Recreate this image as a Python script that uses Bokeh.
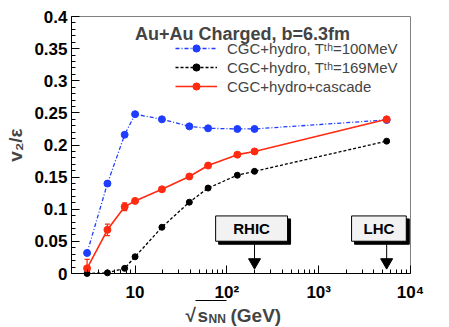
import math
from bokeh.plotting import figure
from bokeh.models import (Range1d, FixedTicker, CustomJSTickFormatter, Label, Legend,
                          LegendItem, ColumnDataSource, Whisker, TeeHead)
from bokeh.core.properties import value
from bokeh.embed import file_html
from bokeh.resources import INLINE

# ---- data ----
energies = [3, 5, 7.7, 10, 19.6, 39, 62.4, 130, 200, 5500]
v2_T100 = [0.032, 0.140, 0.216, 0.248, 0.240, 0.229, 0.226, 0.225, 0.225, 0.239]
v2_T169 = [0.000, 0.001, 0.008, 0.026, 0.072, 0.111, 0.133, 0.153, 0.159, 0.206]
v2_casc = [0.008, 0.068, 0.104, 0.113, 0.131, 0.151, 0.168, 0.185, 0.190, 0.240]
casc_err = [0.014, 0.009, 0.006, 0, 0, 0, 0, 0, 0, 0]

series_labels = ["CGC+hydro, T\u1d57\u02b0=100MeV",
                 "CGC+hydro, T\u1d57\u02b0=169MeV",
                 "CGC+hydro+cascade"]
title_text = "Au+Au Charged, b=6.3fm"

# collider markers
colliders = ["RHIC", "LHC"]
collider_energy = [200, 5500]
box_left = [75.4, 2281]
box_right = [458, 8995]
box_top = 0.0896
box_bottom = 0.0502
arrow_tip = 0.0176

y_ticks = [0, 0.05, 0.1, 0.15, 0.2, 0.25, 0.3, 0.35, 0.4]
x_ticks = [10, 100, 1000, 10000]

FONT = "Liberation Sans"
BLUE = "#1f3dff"
RED = "#ff2a10"

# ---- layout: the frame covers the whole canvas, axes are drawn inside it ----
W, H = 449, 327
FL, FR, FT, FB = 71, 410, 16, 273          # pixel box of the data area
x_lo, x_hi = 2.03, 10000
y_lo, y_hi = 0.0, 0.4
dpx = (FR - FL) / (math.log10(x_hi) - math.log10(x_lo))
ypx = (FB - FT) / (y_hi - y_lo)
xr = Range1d(10 ** (math.log10(x_lo) - FL / dpx), 10 ** (math.log10(x_hi) + (W - FR) / dpx))
yr = Range1d(y_lo - (H - FB) / ypx, y_hi + FT / ypx)

def px2x(px):
    return 10 ** (math.log10(x_lo) + (px - FL) / dpx)

def py2y(py):
    return y_lo + (FB - py) / ypx

p = figure(width=W, height=H, x_axis_type="log", x_range=xr, y_range=yr,
           output_backend="svg", toolbar_location=None,
           min_border_left=0, min_border_right=0, min_border_top=0, min_border_bottom=0)
p.xgrid.visible = False
p.ygrid.visible = False
p.outline_line_color = None
p.background_fill_color = "white"
p.border_fill_color = "white"

# frame border (top and right, grey)
p.line([x_lo, x_hi, x_hi], [y_hi, y_hi, y_lo], line_color="#808080", line_width=1)

# ---- axes ----
minor_x = [m * 10 ** k for k in range(0, 4) for m in range(2, 10) if x_lo <= m * 10 ** k <= x_hi]
p.xaxis.ticker = FixedTicker(ticks=x_ticks, minor_ticks=minor_x)
p.xaxis.formatter = CustomJSTickFormatter(code="""
const e = Math.round(Math.log10(tick));
const sup = {2: '\u00b2', 3: '\u00b3', 4: '\u2074'};
return e == 1 ? '10' : '10' + sup[e];
""")
minor_y = [i * 0.01 for i in range(0, 41)]
p.yaxis.ticker = FixedTicker(ticks=y_ticks, minor_ticks=minor_y)
p.yaxis.formatter = CustomJSTickFormatter(code="""
let s = tick.toFixed(2);
s = s.replace(/0+$/, '').replace(/\\.$/, '');
return s;
""")
p.xaxis.fixed_location = y_lo
p.xaxis.bounds = (x_lo, x_hi)
p.yaxis.fixed_location = x_lo
p.yaxis.bounds = (y_lo, y_hi)
for ax in (p.xaxis, p.yaxis):
    ax.major_tick_in = 8
    ax.major_tick_out = 0
    ax.minor_tick_in = 4
    ax.minor_tick_out = 0
    ax.axis_line_color = "black"
    ax.major_tick_line_color = "black"
    ax.minor_tick_line_color = "black"
    ax.major_label_text_font = FONT
    ax.major_label_text_font_style = "bold"
    ax.major_label_text_font_size = "17px"
    ax.major_label_text_color = "black"
p.yaxis.major_label_standoff = 4
p.xaxis.major_label_standoff = 9
p.yaxis.axis_label = "v\u2082/\u03b5"
p.yaxis.axis_label_text_font = FONT
p.yaxis.axis_label_text_font_style = "bold"
p.yaxis.axis_label_text_font_size = "19px"
p.yaxis.axis_label_standoff = 5

# ---- series ----
r_b_line = p.line(energies, v2_T100, line_color=BLUE, line_width=1.3, line_dash="4 2 1 2")
r_b_pts = p.scatter(energies, v2_T100, marker="circle", size=7, fill_color=BLUE, line_color=BLUE)
r_k_line = p.line(energies, v2_T169, line_color="black", line_width=1.3, line_dash="3 2")
r_k_pts = p.scatter(energies, v2_T169, marker="circle", size=6, fill_color="black", line_color="black")
r_r_line = p.line(energies, v2_casc, line_color=RED, line_width=1.6)
r_r_pts = p.scatter(energies, v2_casc, marker="circle", size=7, fill_color=RED, line_color=RED)

ex = [e for e, d in zip(energies, casc_err) if d > 0]
ey = [v for v, d in zip(v2_casc, casc_err) if d > 0]
ed = [d for d in casc_err if d > 0]
err_src = ColumnDataSource(dict(x=ex, upper=[a + b for a, b in zip(ey, ed)],
                                lower=[max(y_lo, a - b) for a, b in zip(ey, ed)]))
p.add_layout(Whisker(source=err_src, base="x", upper="upper", lower="lower",
                     line_color=RED, line_width=1.3,
                     upper_head=TeeHead(size=5, line_color=RED, line_width=1.3),
                     lower_head=TeeHead(size=5, line_color=RED, line_width=1.3)))

legend = Legend(items=[LegendItem(label=series_labels[0], renderers=[r_b_line, r_b_pts]),
                       LegendItem(label=series_labels[1], renderers=[r_k_line, r_k_pts]),
                       LegendItem(label=series_labels[2], renderers=[r_r_line, r_r_pts])],
                location=(175, H - 95), border_line_alpha=0, background_fill_alpha=0,
                padding=0, margin=0, spacing=1, glyph_width=42, glyph_height=18,
                label_height=18, label_standoff=10,
                label_text_font=FONT, label_text_font_size="15px")
p.add_layout(legend)

# ---- collider boxes ----
shift = 10 ** (3 / dpx)
dy = 3 / ypx
p.quad(left=[l * shift for l in box_left], right=[r * shift for r in box_right],
       top=box_top - dy, bottom=box_bottom - dy, fill_color="black", line_color="black")
p.quad(left=box_left, right=box_right, top=box_top, bottom=box_bottom,
       fill_color="#f2f2f2", line_color="black", line_width=1)
centers = [math.sqrt(l * r) for l, r in zip(box_left, box_right)]
p.text(x=centers, y=[(box_top + box_bottom) / 2] * 2, text=colliders,
       text_font=value(FONT), text_font_style="bold", text_font_size="15px",
       text_align="center", text_baseline="middle", text_color="black")
p.segment(x0=collider_energy, y0=[box_bottom] * 2, x1=collider_energy, y1=[arrow_tip] * 2,
          line_color="black", line_width=1)
p.scatter(collider_energy, [arrow_tip] * 2, marker="inverted_triangle", size=12,
          fill_color="black", line_color="black")

# ---- texts ----
p.add_layout(Label(x=10, y=0.372, text=title_text, text_font=FONT, text_font_style="bold",
                   text_font_size="18px", text_align="left", text_baseline="alphabetic"))
xlab = [("\u221a", 185, 315, "19px"), ("s", 197, 315, "19px"), ("NN", 208, 318, "12px"),
        ("(GeV)", 230, 315, "19px")]
for txt, cx, cy, fs in xlab:
    p.add_layout(Label(x=px2x(cx), y=py2y(cy), text=txt,
                       text_font=FONT, text_font_style="bold", text_font_size=fs,
                       text_align="left", text_baseline="alphabetic"))
# overline of the square root
p.segment(x0=[px2x(195)], y0=[py2y(300)], x1=[px2x(226)], y1=[py2y(300)],
          line_color="black", line_width=1.2)

open("out.html", "w").write(file_html(p, INLINE))
